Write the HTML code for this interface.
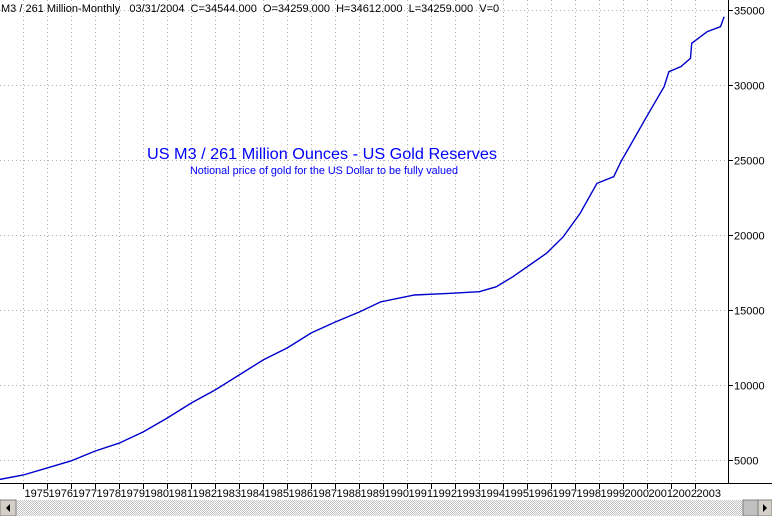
<!DOCTYPE html>
<html><head><meta charset="utf-8"><style>
html,body{margin:0;padding:0;background:#fff;width:772px;height:516px;overflow:hidden}
svg{display:block;font-family:"Liberation Sans",Arial,sans-serif}
.pre{white-space:pre}
</style></head><body>
<svg id="chart" width="772" height="516" viewBox="0 0 772 516">
<defs>
<pattern id="chk" width="2" height="2" patternUnits="userSpaceOnUse"><rect width="2" height="2" fill="#fff"/><rect width="1" height="1" fill="#c0c0c0"/><rect x="1" y="1" width="1" height="1" fill="#c0c0c0"/></pattern>
</defs>
<g id="grid"></g>
<g id="xaxis"></g>
<g id="yaxis"></g>
<g id="series"></g>
<text class="pre" x="1" y="12" font-size="11" fill="#000">M3 / 261 Million-Monthly   03/31/2004  C=34544.000  O=34259.000  H=34612.000  L=34259.000  V=0</text>
<text x="147" y="159" font-size="16" fill="#0000ff" textLength="350" lengthAdjust="spacingAndGlyphs">US M3 / 261 Million Ounces - US Gold Reserves</text>
<text x="190" y="174" font-size="11" fill="#0000ff" textLength="268" lengthAdjust="spacingAndGlyphs">Notional price of gold for the US Dollar to be fully valued</text>
<g>
<rect x="0" y="500" width="772" height="16" fill="url(#chk)"/>
<rect x="0" y="500" width="16" height="16" fill="#d4d0c8" stroke="#808080"/>
<polygon points="10,504 10,512 6,508" fill="#000"/>
<rect x="743" y="500" width="15" height="16" fill="#c0c0c0" stroke="#808080"/>
<rect x="758" y="500" width="14" height="16" fill="#d4d0c8" stroke="#808080"/>
<polygon points="763,504 763,512 767,508" fill="#000"/>
</g>
</svg>
<script>
const years = [1975,1976,1977,1978,1979,1980,1981,1982,1983,1984,1985,1986,1987,1988,1989,1990,1991,1992,1993,1994,1995,1996,1997,1998,1999,2000,2001,2002,2003];
const yTicks = [5000,10000,15000,20000,25000,30000,35000];
const dates = [1974.0,1975.0,1976.0,1977.0,1978.0,1979.0,1980.0,1981.0,1982.0,1983.0,1984.0,1985.0,1986.0,1987.0,1988.0,1989.0,1989.9,1991.3,1992.7,1994.0,1994.7,1995.4,1996.1,1996.8,1997.5,1998.2,1998.9,1999.6,1999.9,2000.3,2000.97,2001.7,2001.9,2002.4,2002.8,2002.85,2003.5,2004.05,2004.2];
const values = [3700,4000,4470,4950,5600,6130,6870,7800,8800,9670,10670,11670,12470,13470,14200,14870,15550,16000,16110,16220,16550,17220,18000,18780,19890,21440,23440,23890,24890,26000,27890,29890,30890,31220,31780,32780,33560,33890,34544];
const NS="http://www.w3.org/2000/svg";
function xS(t){return 23.3+(t-1975)*24;}
function yS(v){return 460-(v-5000)*0.015;}
const AX=728, AY=483;
const grid=document.getElementById('grid'), xa=document.getElementById('xaxis'), ya=document.getElementById('yaxis'), se=document.getElementById('series');
function mk(tag,attrs,parent){const e=document.createElementNS(NS,tag);for(const k in attrs)e.setAttribute(k,attrs[k]);parent.appendChild(e);return e;}
years.forEach(y=>{
  const x=Math.round(xS(y))+0.5;
  const g=mk('line',{x1:x,y1:0,x2:x,y2:AY,stroke:'#b0b0b0','stroke-dasharray':'1,3'},grid);
  
  
  const t=mk('line',{x1:x,y1:AY,x2:x,y2:AY+6,stroke:'#000'},xa);
  
  
  const l=mk('text',{x:x+1,y:AY+14,'font-size':'11',fill:'#000'},xa);
  l.textContent=y;
  
  
});
yTicks.forEach(v=>{
  const y=Math.round(yS(v))+0.5;
  const g=mk('line',{x1:0,y1:y,x2:AX,y2:y,stroke:'#b0b0b0','stroke-dasharray':'1,3'},grid);
  
  
  const t=mk('line',{x1:AX,y1:y,x2:AX+5,y2:y,stroke:'#000'},ya);
  
  
  const l=mk('text',{x:AX+6,y:y+4,'font-size':'11',fill:'#000'},ya);
  l.textContent=v;
  
  
});
const ax1=mk('line',{x1:0,y1:AY+0.5,x2:772,y2:AY+0.5,stroke:'#000'},xa);


const ax2=mk('line',{x1:AX+0.5,y1:0,x2:AX+0.5,y2:AY,stroke:'#000'},ya);


let pts=dates.map((d,i)=>xS(d).toFixed(1)+','+yS(values[i]).toFixed(1)).join(' ');
const pl=mk('polyline',{points:pts,fill:'none',stroke:'#0000cc','stroke-width':'1.4'},se);


</script>
</body></html>
